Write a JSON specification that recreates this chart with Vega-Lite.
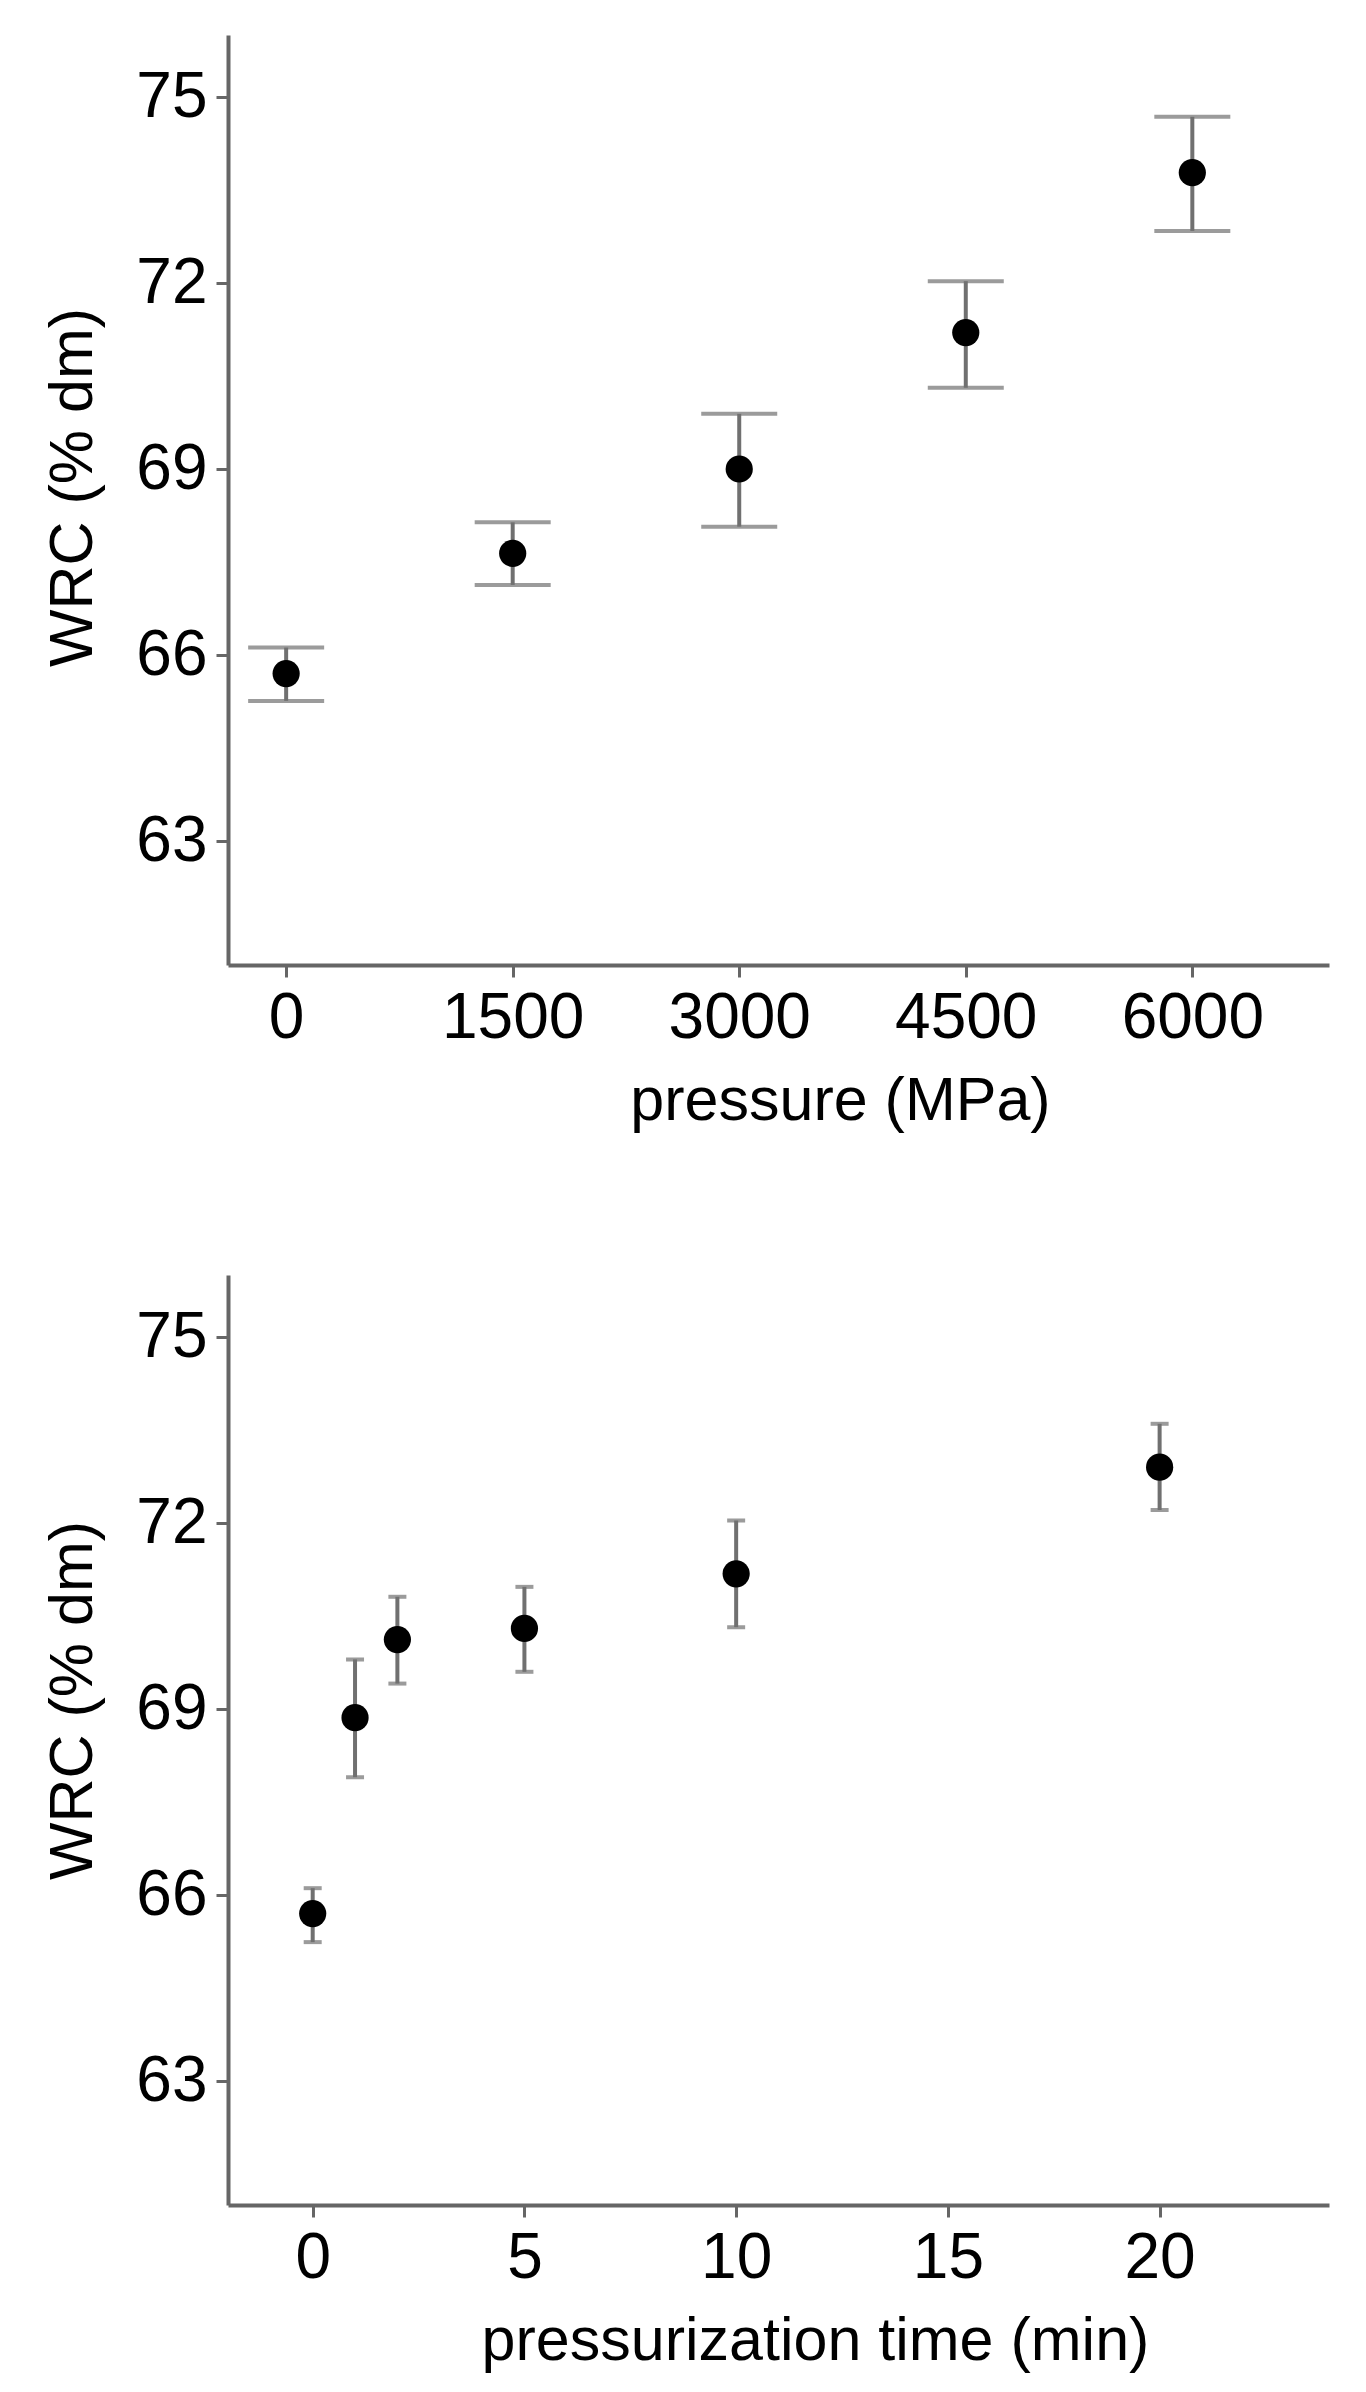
{
  "$schema": "https://vega.github.io/schema/vega-lite/v6.json",
  "padding": {"left": 42, "top": 35, "right": 10, "bottom": 10},
  "background": "white",
  "datasets": {
    "pressure": [
      {"pressure": 0, "wrc": 65.70, "lo": 65.26, "hi": 66.12},
      {"pressure": 1500, "wrc": 67.64, "lo": 67.13, "hi": 68.14},
      {"pressure": 3000, "wrc": 69.00, "lo": 68.07, "hi": 69.89},
      {"pressure": 4500, "wrc": 71.20, "lo": 70.31, "hi": 72.03},
      {"pressure": 6000, "wrc": 73.78, "lo": 72.84, "hi": 74.68}
    ],
    "time": [
      {"time": 0, "wrc": 65.70, "lo": 65.24, "hi": 66.11},
      {"time": 1, "wrc": 68.86, "lo": 67.90, "hi": 69.80},
      {"time": 2, "wrc": 70.12, "lo": 69.41, "hi": 70.81},
      {"time": 5, "wrc": 70.30, "lo": 69.60, "hi": 70.97},
      {"time": 10, "wrc": 71.18, "lo": 70.32, "hi": 72.04},
      {"time": 20, "wrc": 72.90, "lo": 72.21, "hi": 73.60}
    ]
  },
  "vconcat": [
    {
      "width": 1101,
      "height": 930,
      "data": {"name": "pressure"},
      "encoding": {
        "x": {
          "field": "pressure", "type": "quantitative",
          "scale": {"domain": [-385, 6905], "nice": false, "zero": false},
          "axis": {"values": [0, 1500, 3000, 4500, 6000], "format": "d", "title": "pressure (MPa)", "titleX": 612}
        }
      },
      "layer": [
        {
          "mark": {"type": "errorbar", "ticks": {"size": 76, "thickness": 4, "color": "#707070"}, "rule": {"strokeWidth": 4, "color": "#707070"}},
          "encoding": {
            "y": {
              "field": "lo", "type": "quantitative",
              "scale": {"domain": [61, 76], "nice": false, "zero": false},
              "axis": {"values": [63, 66, 69, 72, 75], "format": "d", "title": "WRC (% dm)", "titleY": 452}
            },
            "y2": {"field": "hi"}
          }
        },
        {
          "mark": {"type": "point", "filled": true, "color": "black", "opacity": 1, "size": 740},
          "encoding": {
            "y": {"field": "wrc", "type": "quantitative", "title": "WRC (% dm)"}
          }
        }
      ]
    },
    {
      "width": 1101,
      "height": 930,
      "data": {"name": "time"},
      "encoding": {
        "x": {
          "field": "time", "type": "quantitative",
          "scale": {"domain": [-2, 24], "nice": false, "zero": false},
          "axis": {"values": [0, 5, 10, 15, 20], "format": "d", "title": "pressurization time (min)", "titleX": 587}
        }
      },
      "layer": [
        {
          "mark": {"type": "errorbar", "ticks": {"size": 18, "thickness": 4, "color": "#707070"}, "rule": {"strokeWidth": 4, "color": "#707070"}},
          "encoding": {
            "y": {
              "field": "lo", "type": "quantitative",
              "scale": {"domain": [61, 76], "nice": false, "zero": false},
              "axis": {"values": [63, 66, 69, 72, 75], "format": "d", "title": "WRC (% dm)", "titleY": 425}
            },
            "y2": {"field": "hi"}
          }
        },
        {
          "mark": {"type": "point", "filled": true, "color": "black", "opacity": 1, "size": 740},
          "encoding": {
            "y": {"field": "wrc", "type": "quantitative", "title": "WRC (% dm)"}
          }
        }
      ]
    }
  ],
  "spacing": 144,
  "config": {
    "font": "Liberation Sans",
    "view": {"stroke": null},
    "axis": {
      "grid": false,
      "domainColor": "#666666",
      "domainWidth": 4,
      "tickColor": "#666666",
      "tickWidth": 3,
      "tickSize": 12,
      "labelFont": "Liberation Sans",
      "labelFontSize": 64,
      "labelColor": "black",
      "labelPadding": 9,
      "titleFont": "Liberation Sans",
      "titleFontSize": 61,
      "titleFontWeight": "normal",
      "titleColor": "black",
      "titlePadding": 21
    },
    "axisY": {"titlePadding": 31, "labelFlush": false},
    "axisX": {"labelFlush": false}
  }
}
